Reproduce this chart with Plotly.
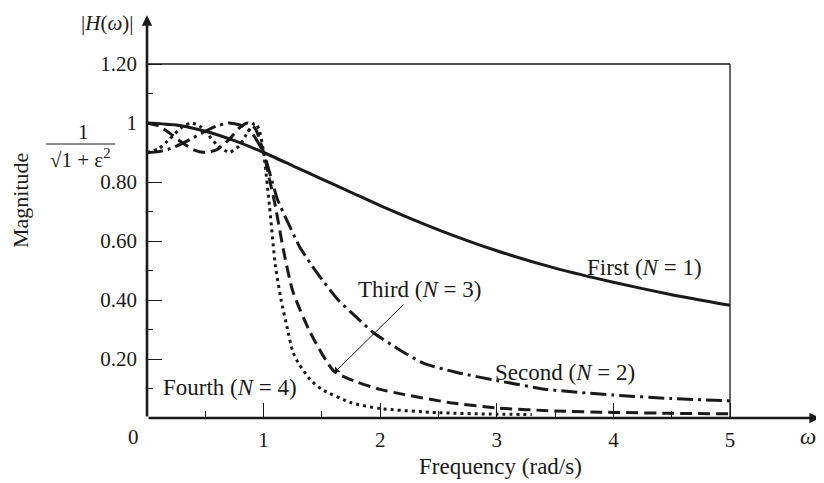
import plotly.graph_objects as go

# frequency / magnitude readings for the four Chebyshev responses
w_first = [0, 0.25, 0.5, 0.75, 1.0, 1.25, 1.5, 1.75, 2.0, 2.5, 3.0, 3.5, 4.0, 4.5, 5.0]
h_first = [1.0, 0.993, 0.972, 0.94, 0.90, 0.855, 0.81, 0.765, 0.72, 0.638, 0.567, 0.508, 0.46, 0.418, 0.382]

w_second = [0, 0.1, 0.2, 0.3, 0.4, 0.5, 0.6, 0.7, 0.8, 0.9, 1.0, 1.06, 1.12, 1.2, 1.31, 1.4,
            1.5, 1.64, 1.8, 1.94, 2.15, 2.37, 2.65, 3.0, 3.43, 4.0, 4.5, 5.0]
h_second = [0.90, 0.903, 0.913, 0.93, 0.951, 0.972, 0.99, 1.0, 0.993, 0.965, 0.90, 0.82, 0.74, 0.67,
            0.58, 0.525, 0.47, 0.40, 0.34, 0.29, 0.235, 0.186, 0.155, 0.127, 0.097, 0.078, 0.066, 0.058]

w_third = [0, 0.1, 0.2, 0.3, 0.4, 0.5, 0.6, 0.7, 0.8, 0.866, 0.93, 1.0, 1.05, 1.1, 1.17, 1.25,
           1.4, 1.6, 1.8, 2.0, 2.2, 2.6, 3.0, 3.5, 4.0, 4.5, 5.0]
h_third = [1.0, 0.99, 0.964, 0.934, 0.909, 0.90, 0.91, 0.943, 0.986, 1.0, 0.98, 0.90, 0.81, 0.72,
           0.57, 0.43, 0.29, 0.16, 0.122, 0.097, 0.08, 0.052, 0.034, 0.024, 0.019, 0.016, 0.014]

w_fourth = [0, 0.1, 0.2, 0.3, 0.383, 0.45, 0.5, 0.6, 0.707, 0.8, 0.85, 0.924, 0.96, 1.0, 1.05,
            1.1, 1.15, 1.2, 1.25, 1.3, 1.4, 1.5, 1.75, 2.0, 2.5, 3.0, 3.3]
h_fourth = [0.90, 0.913, 0.948, 0.986, 1.0, 0.99, 0.972, 0.926, 0.90, 0.926, 0.96, 1.0, 0.98, 0.90,
            0.72, 0.52, 0.40, 0.31, 0.225, 0.185, 0.13, 0.097, 0.052, 0.032, 0.018, 0.013, 0.012]

# axis ticks
x_ticks = [1, 2, 3, 4, 5]
x_labels = ["1", "2", "3", "4", "5"]
x_minor = [0.5, 1.5, 2.5, 3.5, 4.5]
y_ticks = [0.2, 0.4, 0.6, 0.8, 1.0, 1.2]
y_labels = ["0.20", "0.40", "0.60", "0.80", "1", "1.20"]
y_minor = [0.1, 0.3, 0.5, 0.7, 0.9, 1.1]

SERIF = "Liberation Serif"
INK = "#1a1a1a"
TICK_SIZE = 21
TEXT_SIZE = 23

# the page body adds 8px on the left/top, so the figure is 816x475
FW, FH = 816, 475
OFF = 8
# plot area in window pixels
PX0, PY0 = 147, 418          # origin
PW, PH = 673, 403
L, T = PX0 - OFF, PY0 - PH - OFF
R, B = FW - L - PW, FH - T - PH
XPX, YPX = 116.6, 295.0      # pixels per unit


def paper(px, py):
    # window pixel position -> paper coordinates
    return (px - PX0) / PW, (PY0 - py) / PH


fig = go.Figure()

curves = [
    (w_first, h_first, "solid"),
    (w_second, h_second, "16px,5px,3px,5px"),
    (w_third, h_third, "12px,6px"),
    (w_fourth, h_fourth, "3px,4px"),
]
for w, h, dash in curves:
    fig.add_trace(go.Scatter(x=w, y=h, mode="lines",
                             line=dict(color=INK, width=3, dash=dash, shape="spline", smoothing=0.6),
                             showlegend=False, hoverinfo="skip"))

fig.update_xaxes(range=[0, PW / XPX], showgrid=False, zeroline=False, showline=False,
                 tickmode="array", tickvals=x_ticks, ticktext=x_labels,
                 ticks="inside", ticklen=15, tickwidth=1.2, tickcolor=INK, ticklabelstandoff=7,
                 minor=dict(ticks="inside", tickvals=x_minor, ticklen=7, tickwidth=1.2, tickcolor=INK),
                 tickfont=dict(family=SERIF, size=TICK_SIZE, color=INK))
fig.update_yaxes(range=[0, PH / YPX], showgrid=False, zeroline=False, showline=False,
                 tickmode="array", tickvals=y_ticks, ticktext=y_labels,
                 ticks="inside", ticklen=15, tickwidth=1.2, tickcolor=INK, ticklabelstandoff=9,
                 minor=dict(ticks="inside", tickvals=y_minor, ticklen=6, tickwidth=1.2, tickcolor=INK),
                 tickfont=dict(family=SERIF, size=TICK_SIZE, color=INK))

# thin box: top at 1.20 and right at 5
_, ytop = paper(0, PY0 - 1.2 * YPX)
x5, _ = paper(PX0 + 5 * XPX, 0)
fig.add_shape(type="line", xref="paper", yref="paper", x0=0, x1=x5, y0=ytop, y1=ytop,
              line=dict(color=INK, width=1.3))
fig.add_shape(type="line", xref="paper", yref="paper", x0=x5, x1=x5, y0=0, y1=ytop,
              line=dict(color=INK, width=1.3))

annotations = []
# axis arrows
annotations.append(dict(x=5.77, y=0, ax=0, ay=0, xref="x", yref="y", axref="x", ayref="y",
                        showarrow=True, arrowhead=2, arrowsize=0.8, arrowwidth=2.6, arrowcolor=INK, text=""))
annotations.append(dict(x=0, y=1.365, ax=0, ay=0, xref="x", yref="y", axref="x", ayref="y",
                        showarrow=True, arrowhead=2, arrowsize=0.8, arrowwidth=2.6, arrowcolor=INK, text=""))
# arrow for Third
annotations.append(dict(x=(335 - PX0) / XPX, y=(PY0 - 372) / YPX,
                        ax=(405 - PX0) / XPX, ay=(PY0 - 303) / YPX,
                        xref="x", yref="y", axref="x", ayref="y", showarrow=True,
                        arrowhead=1, arrowsize=1.3, arrowwidth=1, arrowcolor=INK, text=""))


def label(text, px, py, size=TEXT_SIZE, **kw):
    x, y = paper(px, py)
    annotations.append(dict(text=text, x=x, y=y, xref="paper", yref="paper", showarrow=False,
                            xanchor="center", yanchor="middle",
                            font=dict(family=SERIF, size=size, color=INK), **kw))


label("First (<i>N</i> = 1)", 644, 267)
label("Third (<i>N</i> = 3)", 420, 289)
label("Second (<i>N</i> = 2)", 565, 372)
label("Fourth (<i>N</i> = 4)", 230, 387)
label("0", 133, 437, size=TICK_SIZE)
label("<i>ω</i>", 808, 436)
label("Frequency (rad/s)", 500, 467)
label("Magnitude", 20, 201, size=22, textangle=-90)
label("|<i>H</i>(<i>ω</i>)|", 107, 23, size=21)
# 1 / sqrt(1 + eps^2)
label("1", 83, 132, size=21)
label("√1 + ε<sup>2</sup>", 80, 158, size=21)

fb0, fby = paper(46, 144)
fb1, _ = paper(115, 144)
fig.add_shape(type="line", xref="paper", yref="paper", x0=fb0, x1=fb1, y0=fby, y1=fby,
              line=dict(color=INK, width=1))

fig.update_layout(width=FW, height=FH, margin=dict(l=L, r=R, t=T, b=B),
                  plot_bgcolor="white", paper_bgcolor="white", annotations=annotations)

fig.write_html("out.html")
